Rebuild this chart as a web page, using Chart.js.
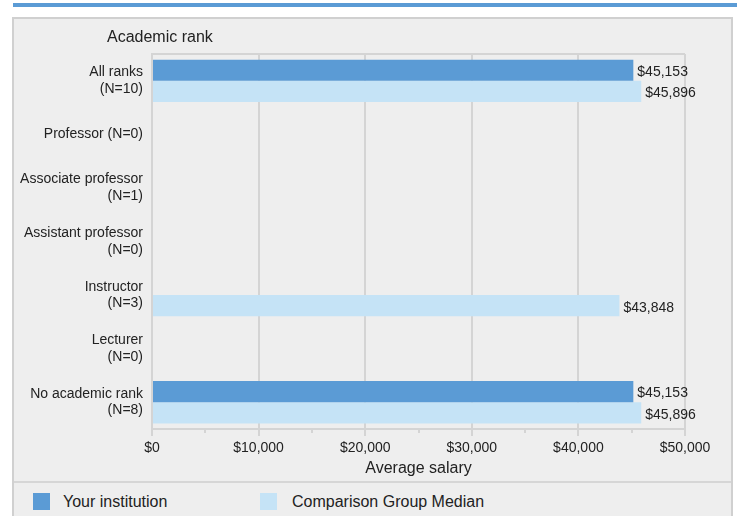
<!DOCTYPE html>
<html>
<head>
<meta charset="utf-8">
<script src="https://cdn.jsdelivr.net/npm/chart.js@4.4.1/dist/chart.umd.min.js"></script>
<style>
  html, body { margin: 0; padding: 0; background: #ffffff; width: 737px; height: 516px; overflow: hidden; font-family: "Liberation Sans", Arial, sans-serif; }
  #band { position: absolute; left: 13px; top: 3px; width: 724px; height: 4px; background: #5b9bd5; }
  #box { position: absolute; left: 12px; top: 17px; width: 721px; height: 530px; box-sizing: border-box; border: 2px solid #d0d0d0; background: #eeeeee; }
  #wrap { position: absolute; left: 14px; top: 19px; width: 717px; height: 463px; }
  #sep { position: absolute; left: 14px; top: 481px; width: 717px; height: 2px; background: #d6d6d6; }
  .lg-box { position: absolute; width: 17px; height: 17px; top: 493px; }
  .lg-txt { position: absolute; top: 492px; font-size: 16px; line-height: 20px; color: #222; white-space: nowrap; }
</style>
</head>
<body>
<div id="band"></div>
<div id="box"></div>
<div id="wrap"><canvas id="c"></canvas></div>
<div id="sep"></div>
<div id="legend"></div>
<script>
const chartTitle = "Academic rank";
const categories = [
  ["All ranks", "(N=10)"],
  "Professor (N=0)",
  ["Associate professor", "(N=1)"],
  ["Assistant professor", "(N=0)"],
  ["Instructor", "(N=3)"],
  ["Lecturer", "(N=0)"],
  ["No academic rank", "(N=8)"]
];
const seriesNames = ["Your institution", "Comparison Group Median"];
const yourInstitution = [45153, null, null, null, null, null, 45153];
const comparisonMedian = [45896, null, null, null, 43848, null, 45896];
const xTickMin = 0, xTickMax = 50000, xMajorStep = 10000, xMinorStep = 5000;
const colors = ["#5b9bd5", "#c5e3f6"];

const gridColor = "#d4d4d4";
const textColor = "#222222";
const fontFamily = "'Liberation Sans', Arial, sans-serif";
const fmt = v => "$" + v.toLocaleString("en-US");

const titlePlugin = {
  id: "leftTitle",
  afterDraw(chart) {
    const ctx = chart.ctx;
    ctx.save();
    ctx.font = "16px " + fontFamily;
    ctx.fillStyle = textColor;
    ctx.textAlign = "left";
    ctx.textBaseline = "middle";
    ctx.fillText(chartTitle, chart.chartArea.left - 45, 19);
    ctx.restore();
  }
};

const valueLabels = {
  id: "valueLabels",
  afterDatasetsDraw(chart) {
    const ctx = chart.ctx;
    ctx.save();
    ctx.font = "14px " + fontFamily;
    ctx.fillStyle = textColor;
    ctx.textAlign = "left";
    ctx.textBaseline = "middle";
    chart.data.datasets.forEach((ds, di) => {
      const meta = chart.getDatasetMeta(di);
      meta.data.forEach((el, i) => {
        const v = ds.data[i];
        if (v === null || v === undefined) return;
        ctx.fillText(fmt(v), el.x + 4, el.y + 2);
      });
    });
    ctx.restore();
  }
};

const minorTicks = {
  id: "minorTicks",
  afterDraw(chart) {
    const sc = chart.scales.x;
    const ctx = chart.ctx;
    ctx.save();
    ctx.strokeStyle = gridColor;
    ctx.lineWidth = 2;
    for (let v = xTickMin + xMinorStep; v < xTickMax; v += xMajorStep) {
      const px = Math.round(sc.getPixelForValue(v));
      ctx.beginPath();
      ctx.moveTo(px, sc.top);
      ctx.lineTo(px, sc.top + 4);
      ctx.stroke();
    }
    ctx.restore();
  }
};

new Chart(document.getElementById("c"), {
  type: "bar",
  data: {
    labels: categories,
    datasets: [
      { label: seriesNames[0], data: yourInstitution, backgroundColor: colors[0], borderWidth: 0, categoryPercentage: 0.79, barPercentage: 1.0 },
      { label: seriesNames[1], data: comparisonMedian, backgroundColor: colors[1], borderWidth: 0, categoryPercentage: 0.79, barPercentage: 1.0 }
    ]
  },
  options: {
    indexAxis: "y",
    responsive: true,
    maintainAspectRatio: false,
    animation: false,
    layout: { padding: { top: 35, left: 4, right: 46, bottom: 0 } },
    plugins: {
      legend: { display: false },
      tooltip: { enabled: false },
      title: { display: false }
    },
    scales: {
      x: {
        type: "linear",
        min: xTickMin,
        max: xTickMax,
        afterFit(scale) { scale.height = 53; },
        ticks: {
          stepSize: xMinorStep,
          autoSkip: false,
          maxRotation: 0,
          padding: 4,
          color: textColor,
          font: { family: fontFamily, size: 14, lineHeight: 1.2 },
          callback: v => (v % xMajorStep === 0 ? fmt(v) : "")
        },
        grid: {
          lineWidth: 2,
          tickLength: 7,
          color: ctx => (ctx.tick && ctx.tick.value % xMajorStep === 0 ? gridColor : "rgba(0,0,0,0)"),
          tickColor: ctx => (ctx.tick && ctx.tick.value % xMajorStep === 0 ? gridColor : "rgba(0,0,0,0)")
        },
        border: { display: true, color: gridColor, width: 2 },
        title: {
          display: true,
          text: "Average salary",
          color: textColor,
          font: { family: fontFamily, size: 16, lineHeight: 1.2 },
          padding: { top: 2.6, bottom: 3.4 }
        }
      },
      y: {
        afterFit(scale) { scale.width = 134; },
        ticks: {
          padding: 9,
          color: textColor,
          font: { family: fontFamily, size: 14, lineHeight: 1.2 }
        },
        grid: {
          drawTicks: false,
          offset: true,
          lineWidth: 2,
          color: ctx => (ctx.index === 0 ? gridColor : "rgba(0,0,0,0)")
        },
        border: { display: true, color: gridColor, width: 2 }
      }
    }
  },
  plugins: [titlePlugin, valueLabels, minorTicks]
});

// HTML legend built from the series arrays
const legendPos = [{ box: 33, txt: 63 }, { box: 260, txt: 292 }];
const lg = document.getElementById("legend");
seriesNames.forEach((name, i) => {
  const b = document.createElement("div");
  b.className = "lg-box";
  b.style.left = legendPos[i].box + "px";
  b.style.background = colors[i];
  const t = document.createElement("div");
  t.className = "lg-txt";
  t.style.left = legendPos[i].txt + "px";
  t.textContent = name;
  lg.appendChild(b);
  lg.appendChild(t);
});
</script>
</body>
</html>
